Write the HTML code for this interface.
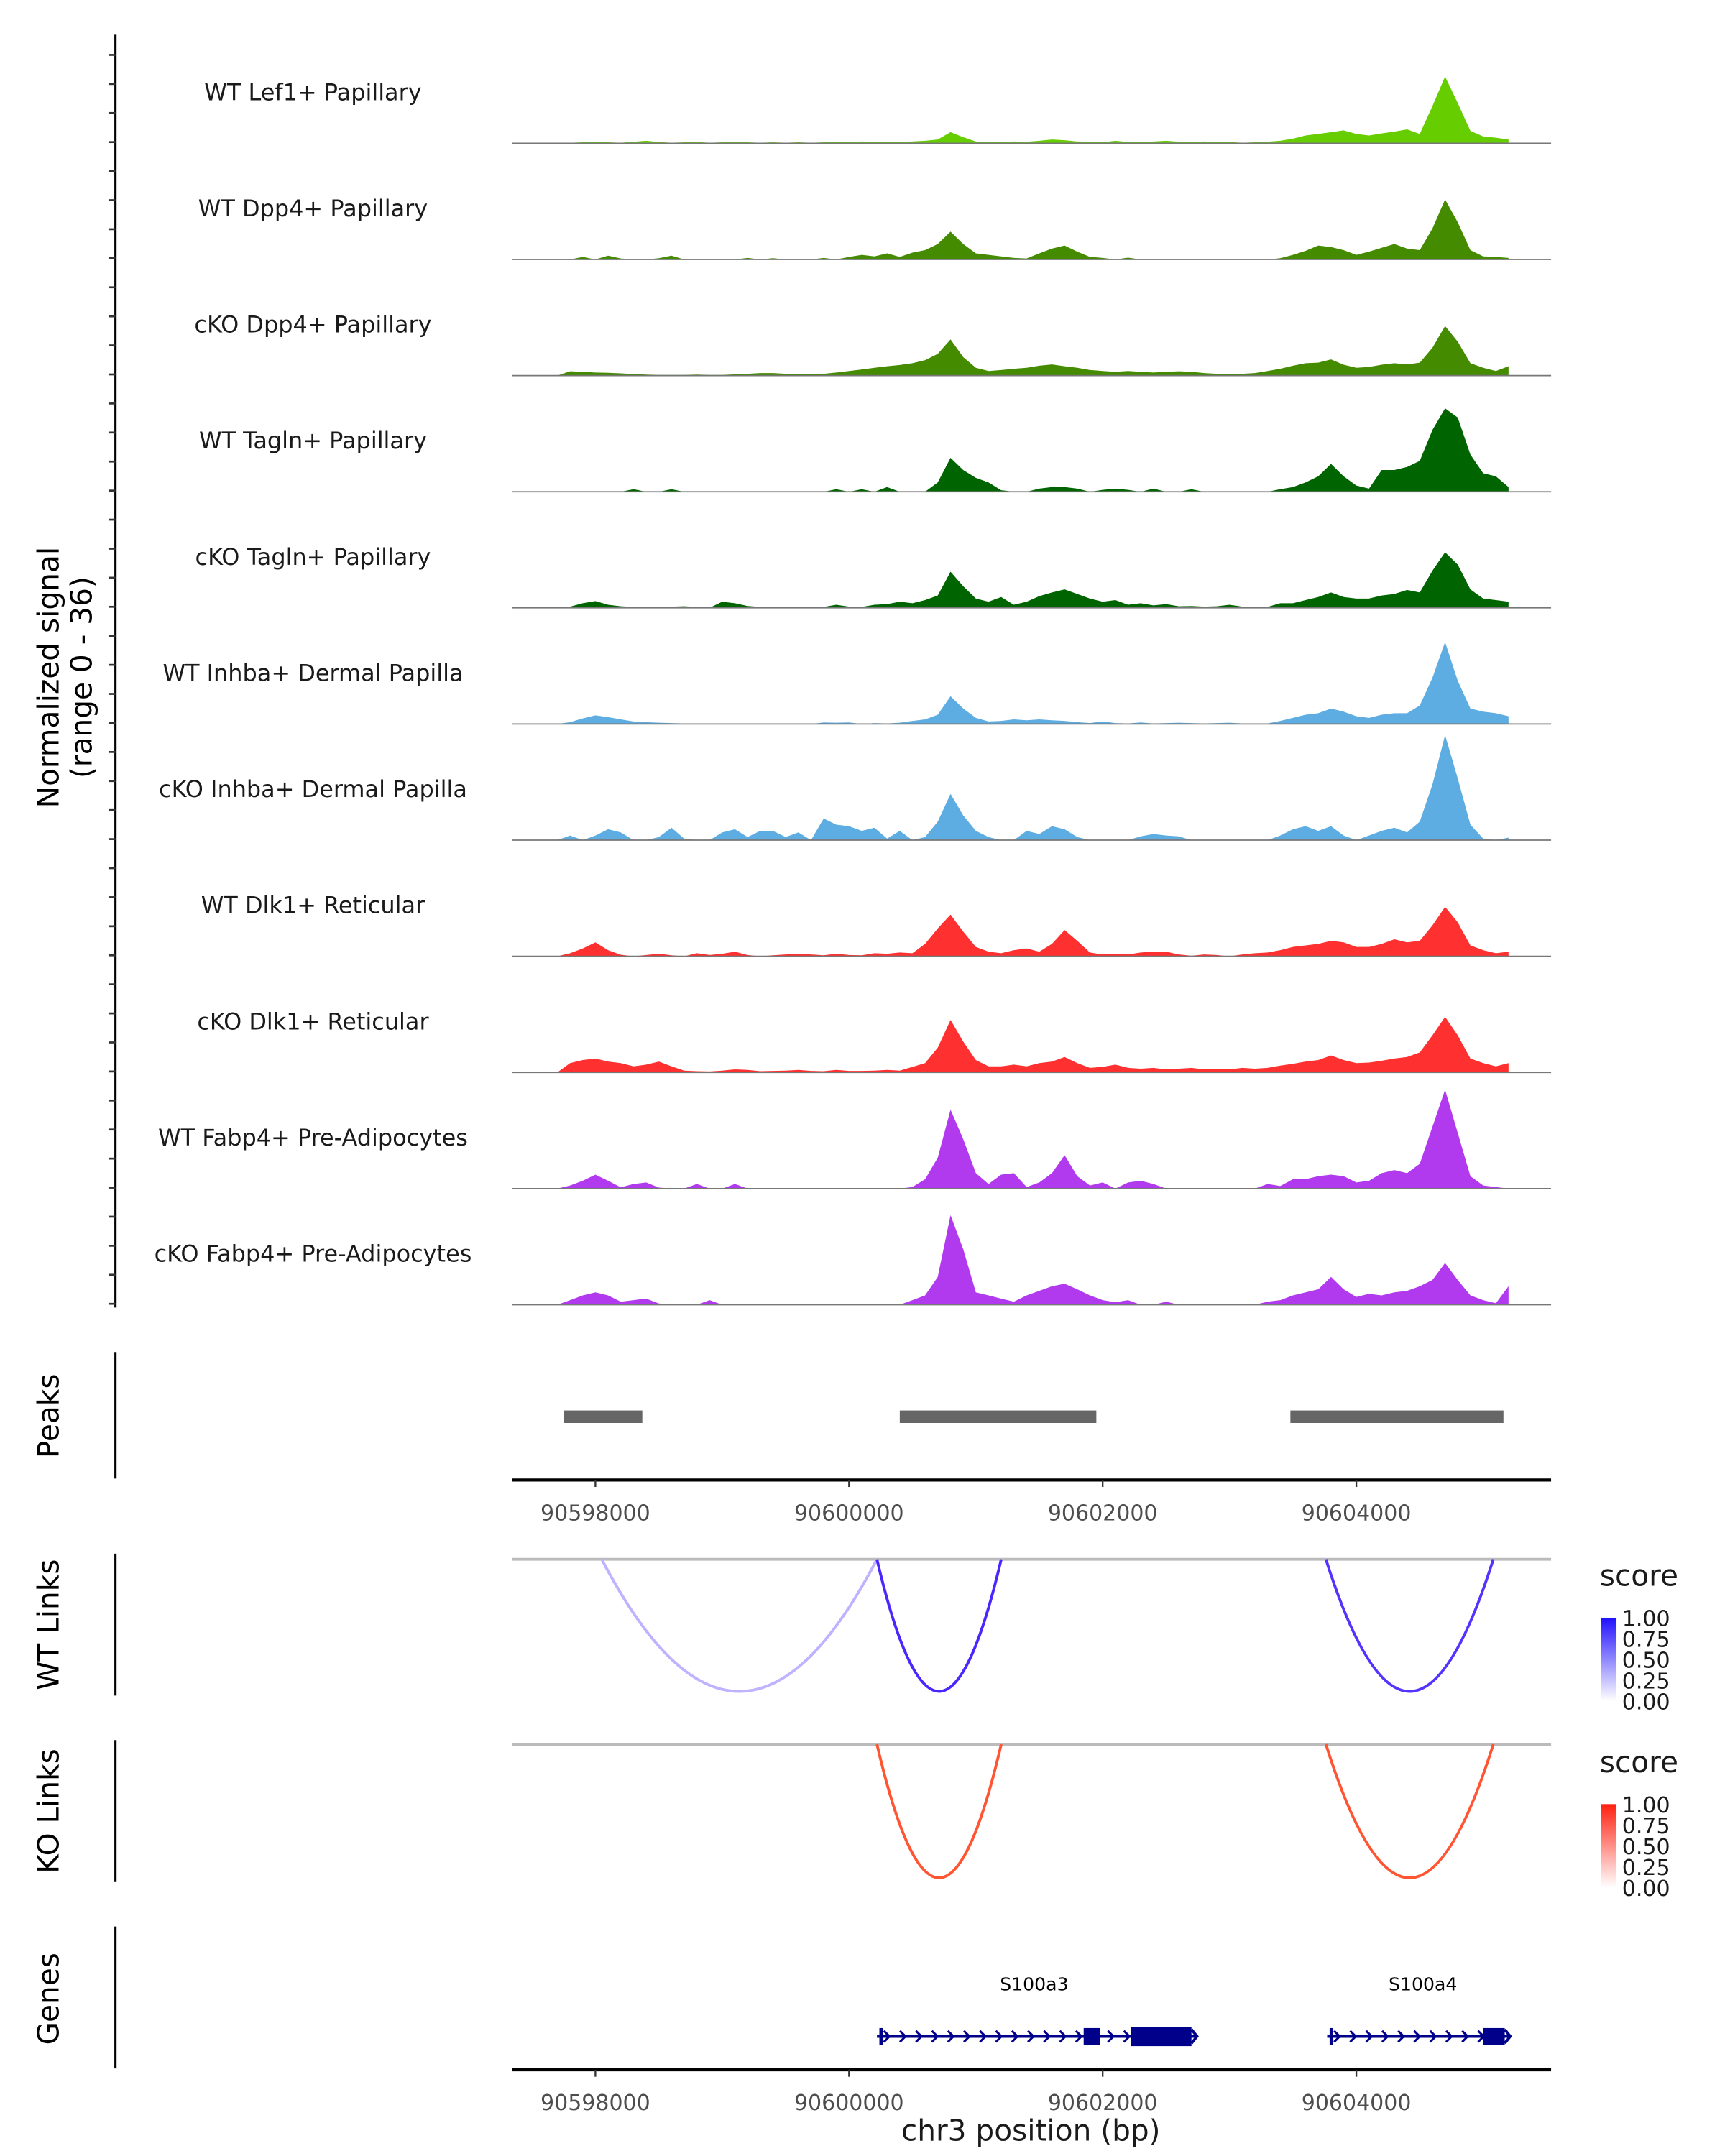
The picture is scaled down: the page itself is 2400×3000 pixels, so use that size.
<!DOCTYPE html>
<html><head><meta charset="utf-8"><style>
html,body{margin:0;padding:0;background:#fff;}
svg{display:block;font-family:"DejaVu Sans","Liberation Sans",sans-serif;}
</style></head><body>
<svg id="chart" width="2400" height="3000" viewBox="0 0 1240 1550" xmlns="http://www.w3.org/2000/svg">
<g id="tracks"></g>
<g id="other"></g>
</svg>
<script>
const trackNames = ["WT Lef1+ Papillary","WT Dpp4+ Papillary","cKO Dpp4+ Papillary","WT Tagln+ Papillary","cKO Tagln+ Papillary","WT Inhba+ Dermal Papilla","cKO Inhba+ Dermal Papilla","WT Dlk1+ Reticular","cKO Dlk1+ Reticular","WT Fabp4+ Pre-Adipocytes","cKO Fabp4+ Pre-Adipocytes"];
const trackColors = ["#66cd00","#458b00","#458b00","#006400","#006400","#5dade2","#5dade2","#ff3030","#ff3030","#b23aee","#b23aee"];
const binStart = 90597700, binStep = 100;
const sigLef1WT = [0,0.2,0.3,0.5,0.3,0.2,0.5,0.8,0.4,0.2, 0.3,0.4,0.2,0.3,0.5,0.3,0.2,0.3,0.2,0.3, 0.2,0.3,0.4,0.5,0.6,0.5,0.4,0.5,0.6,0.8, 1.2,3.6,2,0.6,0.4,0.5,0.6,0.5,0.8,1.2, 1.0,0.6,0.4,0.3,0.8,0.4,0.3,0.6,0.8,0.5, 0.4,0.6,0.3,0.4,0.2,0.3,0.5,0.8,1.5,2.5, 3,3.6,4.2,3,2.5,3.2,3.8,4.5,3,12, 21.6,13,4,2.2,1.8,1.2];
const sigDpp4WT = [0,0,0.8,0,1.2,0.3,0,0,0.4,1.2, 0,0,0,0,0,0.5,0,0.4,0,0, 0,0.5,0,0.8,1.5,1.0,2,0.8,2.2,3, 5,9,5,2,1.5,1,0.5,0.3,2,3.5, 4.5,2.5,0.8,0.5,0,0.6,0,0,0,0, 0,0,0,0,0,0,0,0.4,1.5,2.8, 4.5,4,3,1.5,2.5,3.8,5,3.5,3,10, 19.4,12,3,1,0.8,0.5];
const sigDpp4KO = [0,1.4,1.2,1,0.9,0.7,0.5,0.3,0.2,0.2, 0.2,0.3,0.2,0.2,0.4,0.6,0.8,0.8,0.6,0.5, 0.4,0.6,1,1.5,2,2.5,3,3.4,4,5, 7,11.7,6,2.5,1.5,1.8,2.2,2.5,3.2,3.6, 3,2.5,1.8,1.5,1.2,1.5,1.2,1,1.2,1.4, 1.2,0.8,0.6,0.5,0.6,0.8,1.5,2.2,3.2,4, 4.2,5.2,3.5,2.5,2.8,3.5,4,3.6,4.2,9, 16,11,4,2.5,1.5,3];
const sigTaglnWT = [0,0,0,0,0,0,0.8,0,0,0.8, 0,0,0,0,0,0,0,0,0,0, 0,0,0.8,0,0.8,0,1.5,0,0,0, 3,11,7,4.5,3,0.5,0,0,1,1.5, 1.5,1,0,0.6,1,0.6,0,1,0,0, 0.8,0,0,0,0,0,0,0.8,1.5,3, 5,9,5,2,1,7,7,8,10,20, 27,24,12,6,5,1.5];
const sigTaglnKO = [0,0.4,1.5,2.2,1,0.5,0.3,0.2,0,0.4, 0.5,0.3,0,2,1.5,0.6,0.3,0,0.3,0.4, 0.4,0.3,1,0.4,0.3,1,1.2,2,1.5,2.5, 4,11.7,7,3,2,3.5,1,2,3.8,5, 6,4.5,3,2,2.5,1,1.5,0.8,1.2,0.5, 0.6,0.4,0.5,1,0.4,0,0.3,1.5,1.5,2.5, 3.5,5,3.5,3,3,4,4.5,5.8,5,12, 18,14,6,3,2.5,2];
const sigInhbaWT = [0,0.6,1.8,2.8,2.2,1.5,0.8,0.6,0.4,0.3, 0.2,0,0,0,0,0,0,0,0,0, 0,0.5,0.4,0.5,0,0.3,0.2,0.4,1,1.5, 3,9,5,2,0.8,1,1.5,1.2,1.5,1.2, 1,0.6,0.3,0.8,0.3,0.2,0.5,0.2,0.3,0.4, 0.3,0.2,0.3,0.4,0.2,0,0.2,1,2,3, 3.5,5,4,2.5,2,3,3.5,3.5,6,15, 26.5,14,5,4,3.5,2.5];
const sigInhbaKO = [0,1.5,0,1.5,3.5,2.5,0,0,1,4, 0.5,0,0,2.5,3.5,1,3,3,1,2.5, 0,7,5,4.5,3,4,0.5,3,0,1, 6,15,8,3,1,0,0,3,2,4.5, 3.5,1,0,0,0,0,1.2,2,1.5,1.2, 0,0,0,0,0,0,0,1.5,3.5,4.5, 3,4.5,1.5,0,1.5,3,4,2.5,6,18, 34,20,5,0.5,0,0.8];
const sigDlk1WT = [0,1,2.5,4.5,2,0.5,0,0.4,0.8,0.3, 0,1,0.4,0.8,1.5,0.4,0,0.3,0.6,0.8, 0.6,0.3,0.8,0.4,0.3,1,0.8,1.2,1,4, 9,13.5,8,3,1.5,1,2,2.5,1.5,4, 8.5,5,1.2,0.6,0.8,0.6,1.2,1.5,1.5,0.6, 0.2,0.6,0.4,0,0.6,1,1.2,2,3,3.5, 4,5,4.5,3,3,4,5.5,4.5,5,10, 16,11,3.5,2,1,1.5];
const sigDlk1KO = [0,3,4,4.5,3.5,3,2,2.5,3.5,2, 0.6,0.4,0.3,0.6,1,0.8,0.4,0.5,0.6,0.8, 0.5,0.4,0.8,0.5,0.5,0.6,0.8,0.6,1.8,3, 8,17,10,4,2,2,2.5,2,3,3.5, 5,3,1.5,1.8,2.5,1.5,1.2,1.5,1,1.2, 1.5,1,1.2,1,1.5,1.2,1.5,2.2,2.8,3.5, 4,5.5,4,3,3.2,3.8,4.5,5,6.5,12, 18,12,4.5,3,2,3];
const sigFabp4WT = [0,1,2.5,4.5,2.5,0.4,1.5,2,0.3,0, 0,1.5,0,0,1.5,0,0,0,0,0, 0,0,0,0,0,0,0,0,0.5,3, 10,25.5,16,5,1.5,4.5,5,0.5,2,5, 10.8,4,1,2,0,2,2.5,1.5,0,0, 0,0,0,0,0,0,1.5,0.8,3,3, 4,4.5,4,2,2.5,5,6,5,8,20, 32,18,4,1,0.5,0];
const sigFabp4KO = [0,1.5,3,4,3,1,1.5,2,0.4,0, 0,0,1.5,0,0,0,0,0,0,0, 0,0,0,0,0,0,0,0,1.5,3, 9,29,18,4,3,2,1,3,4.5,6, 6.8,5,3,1.5,0.8,1.5,0,0,1,0, 0,0,0,0,0,0,1,1.5,3,4, 5,9,5,2.5,3.5,3,4,4.5,6,8, 13.5,8,3,1.5,0.5,6];
const trackSignals = [sigLef1WT,sigDpp4WT,sigDpp4KO,sigTaglnWT,sigTaglnKO,sigInhbaWT,sigInhbaKO,sigDlk1WT,sigDlk1KO,sigFabp4WT,sigFabp4KO];
const tickPositions = [90598000,90600000,90602000,90604000];
const tickLabels = ["90598000","90600000","90602000","90604000"];
const peakStarts = [90597750,90600400,90603480];
const peakEnds = [90598370,90601950,90605160];
const wtLinkStarts = [90598050,90600220,90603760];
const wtLinkEnds = [90600220,90601200,90605080];
const wtLinkScores = [0.3,0.85,0.8];
const koLinkStarts = [90600220,90603760];
const koLinkEnds = [90601200,90605080];
const koLinkScores = [0.8,0.8];
const geneNames = ["S100a3","S100a4"];
const geneStarts = [90600220,90603770];
const geneEnds = [90602700,90605170];
const exonStarts = [90601850,90602220,90605000];
const exonEnds = [90601980,90602700,90605170];

const NS="http://www.w3.org/2000/svg";
const xs = bp => 428 + (bp-90598000)*(547/6000);
const plotL=368, plotR=1115, yMax=36, trackH=80;
function el(tag, attrs, parent){const e=document.createElementNS(NS,tag);for(const k in attrs)e.setAttribute(k,attrs[k]);parent.appendChild(e);return e;}
function mix(hex,s){const r=parseInt(hex.slice(1,3),16),g=parseInt(hex.slice(3,5),16),b=parseInt(hex.slice(5,7),16);
  const f=c=>Math.round(255+(c-255)*s);return `rgb(${f(r)},${f(g)},${f(b)})`;}
const T=document.getElementById('tracks'), O=document.getElementById('other');

let a=el('line',{x1:83,y1:25,x2:83,y2:940,stroke:'#000','stroke-width':1.6},T);


for(let y=39.5;y<=938;y+=20.88){let t=el('line',{x1:78,y1:y,x2:83,y2:y,stroke:'#333','stroke-width':1.4},T);

}
let yl=el('text',{x:0,y:0,'font-size':21,'text-anchor':'middle',transform:'translate(42,487) rotate(-90)'},T);
yl.textContent='Normalized signal';


let yl2=el('text',{x:0,y:0,'font-size':21,'text-anchor':'middle',transform:'translate(66,487) rotate(-90)'},T);
yl2.textContent='(range 0 - 36)';



trackNames.forEach((name,k)=>{
  const base=103+k*83.5;
  const g=el('g',{},T);
  
  
  const vals=trackSignals[k];
  let pts=[];
  pts.push(xs(binStart)+','+base);
  vals.forEach((v,i)=>{pts.push(xs(binStart+i*binStep).toFixed(1)+','+(base - v/yMax*trackH).toFixed(1));});
  pts.push(xs(binStart+(vals.length-1)*binStep)+','+base);
  const p=el('polygon',{points:pts.join(' '),fill:trackColors[k]},g);
  
  
  const bl=el('line',{x1:plotL,y1:base,x2:plotR,y2:base,stroke:'#777','stroke-width':0.9},g);
  
  
  const tx=el('text',{x:225,y:base-31,'font-size':16.5,'text-anchor':'middle',fill:'#1a1a1a'},g);
  tx.textContent=name;
  
  
});

function sideAxis(y1,y2,label,cy,name){
  const l=el('line',{x1:83,y1:y1,x2:83,y2:y2,stroke:'#000','stroke-width':1.6},O);
  
  
  const t=el('text',{x:0,y:0,'font-size':21,'text-anchor':'middle',transform:'translate(42,'+cy+') rotate(-90)'},O);
  t.textContent=label;
  
  
}
function xAxis(y,name){
  const l=el('line',{x1:plotL,y1:y,x2:plotR,y2:y,stroke:'#000','stroke-width':2.2},O);
  
  
  tickPositions.forEach((bp,i)=>{
    const t=el('line',{x1:xs(bp),y1:y,x2:xs(bp),y2:y+5,stroke:'#333','stroke-width':1.2},O);
    
    
    const tx=el('text',{x:xs(bp),y:y+29,'font-size':15.5,'text-anchor':'middle',fill:'#4d4d4d'},O);
    tx.textContent=tickLabels[i];
    
    
  });
}
sideAxis(972,1063,'Peaks',1018,'peaks');
peakStarts.forEach((s,i)=>{const r=el('rect',{x:xs(s),y:1014,width:xs(peakEnds[i])-xs(s),height:9,fill:'#666'},O);

});
xAxis(1064,'peaks-x-axis');

function links(top,bottom,starts,ends,scores,col,name){
  const gl=el('line',{x1:plotL,y1:top,x2:plotR,y2:top,stroke:'#bbb','stroke-width':2},O);
  
  
  starts.forEach((s,i)=>{
    const x1=xs(s),x2=xs(ends[i]),c=2*bottom-top;
    const p=el('path',{d:`M${x1},${top} Q${(x1+x2)/2},${c} ${x2},${top}`,fill:'none',stroke:mix(col,scores[i]),'stroke-width':2},O);
    
    
  });
}
function legend(y,col,id,name){
  const t=el('text',{x:1150,y:y,'font-size':21,fill:'#1a1a1a'},O);t.textContent='score';
  
  
  const defs=el('defs',{},O);
  const lg=el('linearGradient',{id:id,x1:0,y1:1,x2:0,y2:0},defs);
  el('stop',{offset:0,'stop-color':'#fff'},lg);el('stop',{offset:1,'stop-color':col},lg);
  const r=el('rect',{x:1151,y:y+23,width:11,height:60,fill:`url(#${id})`},O);
  
  
  ['1.00','0.75','0.50','0.25','0.00'].forEach((s,i)=>{const tx=el('text',{x:1166,y:y+29+i*15,'font-size':15.5,fill:'#1a1a1a'},O);tx.textContent=s;
  
  });
}
sideAxis(1117,1219,'WT Links',1168,'wt-links');
links(1121,1216,wtLinkStarts,wtLinkEnds,wtLinkScores,'#2a00ff','wt-link');
legend(1140,'#2010ff','gb','wt-score');
sideAxis(1251,1353,'KO Links',1302,'ko-links');
links(1254,1350,koLinkStarts,koLinkEnds,koLinkScores,'#ff2a00','ko-link');
legend(1274,'#ff2010','gr','ko-score');

sideAxis(1385,1487,'Genes',1437,'genes');
const gy=1464;
geneNames.forEach((n,i)=>{
  const x1=xs(geneStarts[i]),x2=xs(geneEnds[i]);
  const g=el('g',{},O);
  
  
  el('line',{x1:x1,y1:gy,x2:x2+3,y2:gy,stroke:'#00008b','stroke-width':2},g);
  el('line',{x1:x1+3,y1:gy-6,x2:x1+3,y2:gy+6,stroke:'#00008b','stroke-width':2.5},g);
  for(let x=x1+8;x<x2-4;x+=11.5){el('path',{d:`M${x-3},${gy-4} L${x+1},${gy} L${x-3},${gy+4}`,fill:'none',stroke:'#00008b','stroke-width':1.6},g);}
  el('path',{d:`M${x2},${gy-5} L${x2+4},${gy} L${x2},${gy+5}`,fill:'none',stroke:'#00008b','stroke-width':2},g);
  const tx=el('text',{x:(x1+x2)/2+(i==0?0:5),y:1431,'font-size':13,'text-anchor':'middle',fill:'#000'},O);
  tx.textContent=n;
  
  
});
exonStarts.forEach((s,i)=>{const big=(exonEnds[i]-s)>200;const h=big?14:12;
  const r=el('rect',{x:xs(s),y:gy-h/2,width:xs(exonEnds[i])-xs(s),height:h,fill:'#00008b'},O);
  
  });
xAxis(1488,'genes-x-axis');
const xt=el('text',{x:741,y:1539,'font-size':21,'text-anchor':'middle',fill:'#1a1a1a'},O);
xt.textContent='chr3 position (bp)';


</script>
</body></html>
